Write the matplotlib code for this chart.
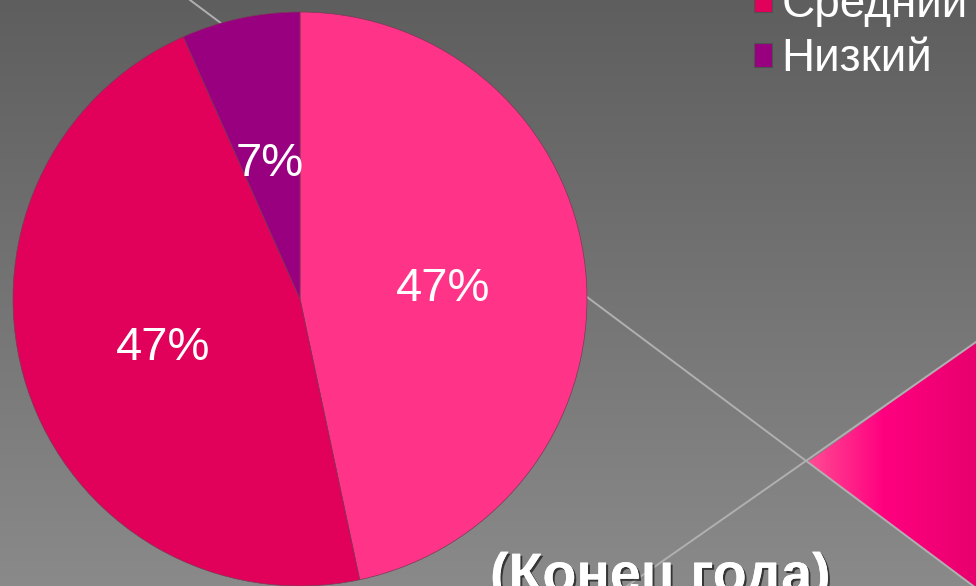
import numpy as np
import matplotlib
matplotlib.use("Agg")
import matplotlib.pyplot as plt
from matplotlib.patches import Polygon
import matplotlib.patheffects as pe

plt.rcParams["font.family"] = ["Liberation Sans", "DejaVu Sans"]

# данные
urovni = ["Высокий", "Средний", "Низкий"]
znacheniya = [7, 7, 1]
cveta = ["#FF3388", "#E1005A", "#990080"]
zagolovok = "(Конец года)"

W, H = 976, 586
fig = plt.figure(figsize=(W / 100, H / 100), dpi=100)

# фон: серый градиент, диагональные линии и розовый треугольник
bg = fig.add_axes([0, 0, 1, 1])
bg.axis("off")
grad = np.linspace(0, 1, 256).reshape(-1, 1)
top = np.array([0.37, 0.37, 0.37])
bot = np.array([0.54, 0.54, 0.54])
img = top + (bot - top) * grad[..., None]
img = np.repeat(img, 2, axis=1)
bg.imshow(img, extent=[0, W, H, 0], aspect="auto", zorder=0)

tri = Polygon([[808, 462], [976, 342], [976, 588]], closed=True,
              facecolor="none", edgecolor="none")
bg.add_patch(tri)
hx = np.linspace(0, 1, 256)
r = np.interp(hx, [0, 0.45, 1], [1.0, 1.0, 0.91])
g = np.interp(hx, [0, 0.45, 1], [0.30, 0.0, 0.0])
b = np.interp(hx, [0, 0.45, 1], [0.58, 0.50, 0.43])
timg = np.stack([r, g, b], axis=-1)[None, :, :].repeat(2, axis=0)
im = bg.imshow(timg, extent=[808, 976, 588, 342], aspect="auto", zorder=1)
im.set_clip_path(tri)

bg.plot([190, 976], [0, 588], color="#b0b0b0", lw=1.4, zorder=2)
bg.plot([976, 627], [342, 586], color="#b0b0b0", lw=1.4, zorder=2)
bg.set_xlim(0, W)
bg.set_ylim(H, 0)

# круговая диаграмма
cx, cy, rad = 300, 299, 287
ax = fig.add_axes([(cx - rad) / W, (H - cy - rad) / H, 2 * rad / W, 2 * rad / H])
wedges, texts, autotexts = ax.pie(
    znacheniya, colors=cveta, startangle=90, counterclock=False,
    autopct="%1.0f%%", pctdistance=0.5,
    wedgeprops=dict(edgecolor="#7a3a55", linewidth=0.5),
    textprops=dict(color="white", fontsize=34))
for t in autotexts:
    t.set_verticalalignment("center_baseline")
ax.set_xlim(-1, 1)
ax.set_ylim(-1, 1)
ax.axis("off")

leg = fig.legend(wedges, urovni, loc="center left",
                 bbox_to_anchor=(754 / W, 1 - 5 / H), frameon=False,
                 fontsize=33, labelcolor="white", borderpad=0, borderaxespad=0,
                 handlelength=0.4, handleheight=0.4, handletextpad=0.2,
                 labelspacing=0.22)
for h in leg.legend_handles:
    h.set_edgecolor("#505050")
    h.set_linewidth(0.8)

fig.text(490 / W, 1 - 592 / H, zagolovok, color="white", fontsize=40,
         fontweight="bold", ha="left", va="baseline",
         path_effects=[pe.withSimplePatchShadow(offset=(1.5, -1.5),
                                                shadow_rgbFace="black",
                                                alpha=0.6),
                       pe.Normal()])

fig.savefig("out.png", dpi=100)
